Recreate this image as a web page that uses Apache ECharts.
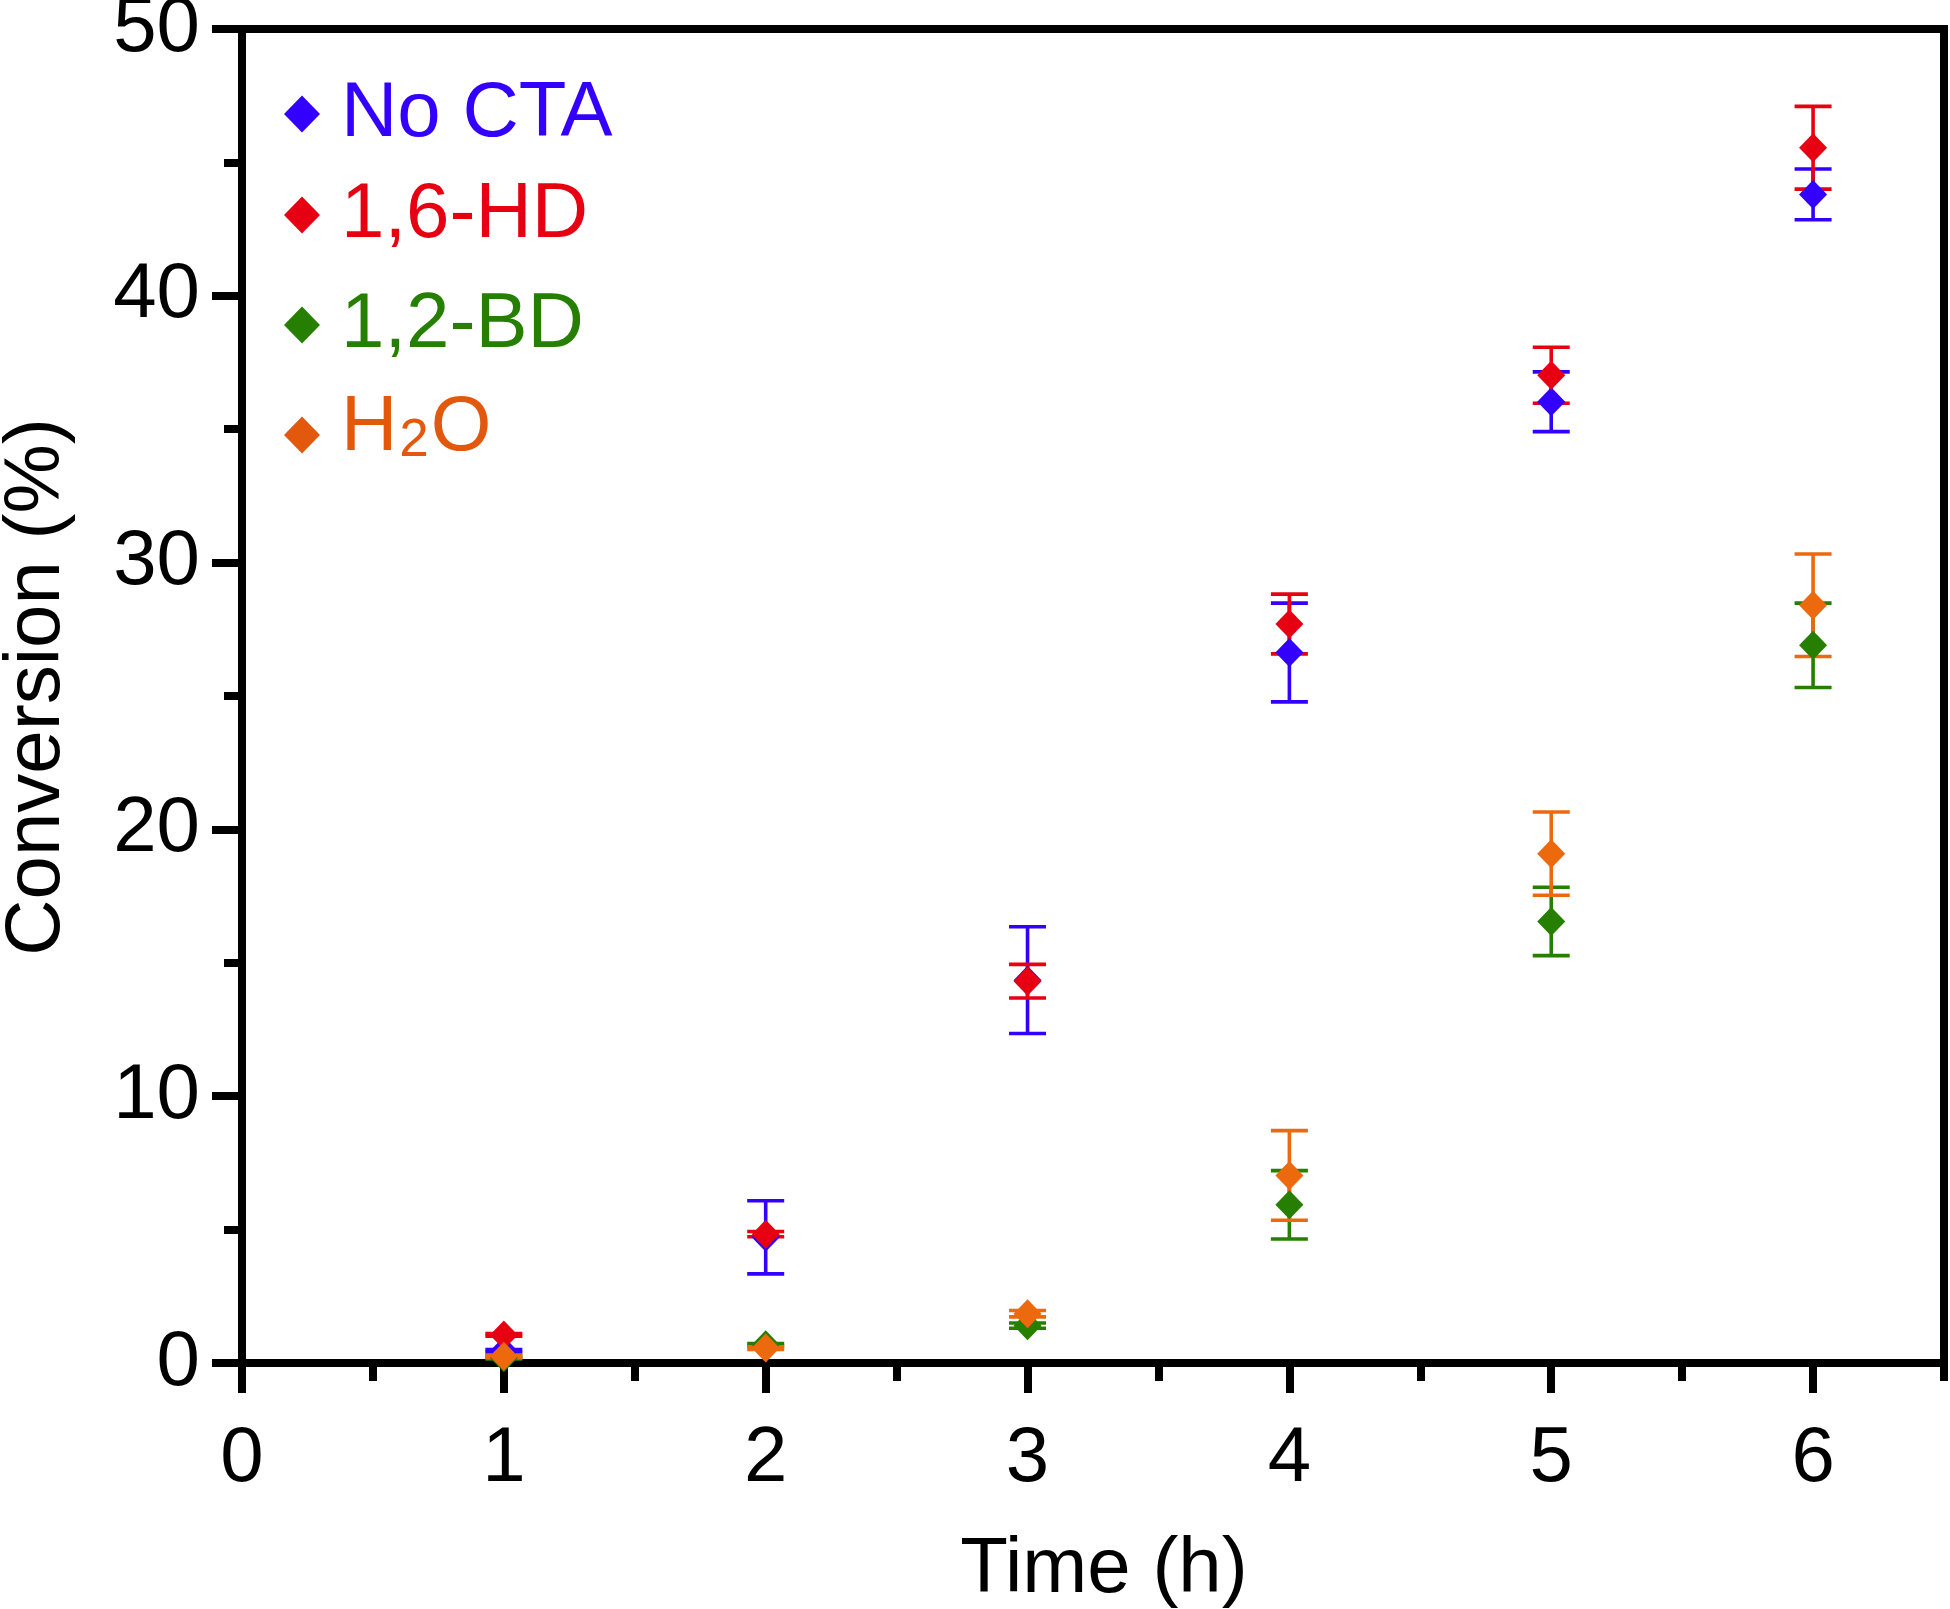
<!DOCTYPE html>
<html>
<head>
<meta charset="utf-8">
<script src="https://cdn.jsdelivr.net/npm/echarts@6/dist/echarts.min.js"></script>
<style>
  html, body { margin: 0; padding: 0; background: #fff; }
  #chart { width: 1950px; height: 1609px; }
</style>
</head>
<body>
<div id="chart"></div>
<script>
// ---- data ----
const times = [1, 2, 3, 4, 5, 6];
const noCtaMean = [0.45, 4.71, 14.35, 26.63, 36.03, 43.80];
const noCtaErr  = [0.05, 1.37, 2.00, 1.85, 1.12, 0.95];
const hdMean    = [1.05, 4.83, 14.31, 27.70, 37.02, 45.55];
const hdErr     = [0.05, 0.10, 0.63, 1.12, 1.05, 1.55];
const bdMean    = [0.20, 0.68, 1.40, 5.93, 16.55, 26.90];
const bdErr     = [0.05, 0.05, 0.10, 1.28, 1.28, 1.58];
const waterMean = [0.25, 0.56, 1.85, 7.03, 19.09, 28.40];
const waterErr  = [0.05, 0.05, 0.12, 1.68, 1.56, 1.92];
const xTicks = [0, 1, 2, 3, 4, 5, 6];
const yTicks = [0, 10, 20, 30, 40, 50];
const seriesNames = ['No CTA', '1,6-HD', '1,2-BD', 'H2O'];

const colors = ['#3300FF', '#E60012', '#267F00', '#EC6A0D'];
const textColors = ['#3300FF', '#E60012', '#267F00', '#E2590E'];
const FONT = 'Liberation Sans, Arial, Helvetica, sans-serif';

const means = [noCtaMean, hdMean, bdMean, waterMean];
const errs = [noCtaErr, hdErr, bdErr, waterErr];

function errRender(color) {
  return function (params, api) {
    const x = api.value(0), lo = api.value(1), hi = api.value(2);
    const p1 = api.coord([x, hi]);
    const p2 = api.coord([x, lo]);
    const hw = 18.5;
    const style = { stroke: color, lineWidth: 3.6, fill: null };
    return {
      type: 'group',
      children: [
        { type: 'line', shape: { x1: p1[0], y1: p1[1], x2: p2[0], y2: p2[1] }, style: style },
        { type: 'line', shape: { x1: p1[0] - hw, y1: p1[1], x2: p1[0] + hw, y2: p1[1] }, style: style },
        { type: 'line', shape: { x1: p2[0] - hw, y1: p2[1], x2: p2[0] + hw, y2: p2[1] }, style: style }
      ]
    };
  };
}

const series = [];
seriesNames.forEach(function (name, i) {
  series.push({
    name: name + ' error',
    type: 'custom',
    xAxisIndex: 0, yAxisIndex: 0,
    renderItem: errRender(colors[i]),
    data: times.map(function (t, k) { return [t, means[i][k] - errs[i][k], means[i][k] + errs[i][k]]; }),
    silent: true,
    clip: false
  });
  series.push({
    name: name,
    type: 'scatter',
    xAxisIndex: 0, yAxisIndex: 0,
    symbol: 'diamond',
    symbolSize: [28, 29],
    itemStyle: { color: colors[i], opacity: 1 },
    data: times.map(function (t, k) { return [t, means[i][k]]; }),
    clip: false
  });
});

const legendCenters = [112, 213, 323, 433];
const legends = seriesNames.map(function (name, i) {
  const isWater = name === 'H2O';
  const lg = {
    show: true,
    orient: 'vertical',
    left: 284,
    top: legendCenters[i] + 2 - (isWater ? 47 : 40),
    padding: 0,
    itemWidth: 36,
    itemHeight: 37,
    icon: 'diamond',
    selectedMode: false,
    data: [{ name: name, icon: 'diamond', itemStyle: { color: textColors[i] } }],
    textStyle: {
      fontFamily: FONT,
      fontSize: 78,
      lineHeight: 80,
      color: textColors[i],
      padding: isWater ? [0, 0, 14, 16] : [0, 0, 0, 16]
    }
  };
  if (isWater) {
    lg.formatter = function () { return '{a|H}{s|2}{a|O}'; };
    lg.textStyle.rich = {
      a: { fontFamily: FONT, fontSize: 78, lineHeight: 80, color: textColors[i] },
      s: { fontFamily: FONT, fontSize: 53, lineHeight: 26, verticalAlign: 'bottom', color: textColors[i], padding: [0, 2, 0, 2] }
    };
  }
  return lg;
});

const axisLineStyle = { color: '#000', width: 8, cap: 'square' };

const option = {
  backgroundColor: '#ffffff',
  animation: false,
  grid: { left: 242, right: 6, top: 29, bottom: 246, containLabel: false, outerBoundsMode: 'none' },
  legend: legends,
  xAxis: [
    {
      type: 'value', position: 'bottom', min: 0, max: 6.5, interval: 1,
      name: 'Time (h)', nameLocation: 'middle', nameGap: 168,
      nameTextStyle: { fontFamily: FONT, fontSize: 78, color: '#000', padding: [0, 0, 0, 22] },
      axisLine: { show: true, onZero: false, lineStyle: axisLineStyle },
      axisTick: { show: true, inside: false, length: 30, lineStyle: { color: '#000', width: 8 }, customValues: xTicks },
      axisLabel: {
        show: true, margin: 57, fontFamily: FONT, fontSize: 78, color: '#000', customValues: xTicks,
        formatter: function (v) { return xTicks.indexOf(v) >= 0 ? String(v) : ''; }
      },
      splitLine: { show: false }
    },
    {
      type: 'value', position: 'bottom', min: 0, max: 6.5, interval: 0.5,
      axisLine: { show: false, onZero: false },
      axisTick: { show: true, inside: false, length: 18, lineStyle: { color: '#000', width: 8 } },
      axisLabel: { show: false },
      splitLine: { show: false }
    },
    {
      type: 'value', position: 'top', min: 0, max: 6.5, interval: 1,
      axisLine: { show: true, onZero: false, lineStyle: axisLineStyle },
      axisTick: { show: false },
      axisLabel: { show: false },
      splitLine: { show: false }
    }
  ],
  yAxis: [
    {
      type: 'value', position: 'left', min: 0, max: 50, interval: 10,
      name: 'Conversion (%)', nameLocation: 'middle', nameGap: 166, nameRotate: 90,
      nameTextStyle: { fontFamily: FONT, fontSize: 78, color: '#000', padding: [0, 0, 0, 18] },
      axisLine: { show: true, onZero: false, lineStyle: axisLineStyle },
      axisTick: { show: true, inside: false, length: 30, lineStyle: { color: '#000', width: 8 } },
      axisLabel: {
        show: true, margin: 42, fontFamily: FONT, fontSize: 78, color: '#000',
        formatter: function (v) { return yTicks.indexOf(v) >= 0 ? String(v) : ''; }
      },
      splitLine: { show: false }
    },
    {
      type: 'value', position: 'left', min: 0, max: 50, interval: 5,
      axisLine: { show: false, onZero: false },
      axisTick: { show: true, inside: false, length: 18, lineStyle: { color: '#000', width: 8 } },
      axisLabel: { show: false },
      splitLine: { show: false }
    },
    {
      type: 'value', position: 'right', min: 0, max: 50, interval: 10,
      axisLine: { show: true, onZero: false, lineStyle: axisLineStyle },
      axisTick: { show: false },
      axisLabel: { show: false },
      splitLine: { show: false }
    }
  ],
  series: series
};

const chart = echarts.init(document.getElementById('chart'), null, { renderer: 'canvas', width: 1950, height: 1609 });
chart.setOption(option);
</script>
</body>
</html>
